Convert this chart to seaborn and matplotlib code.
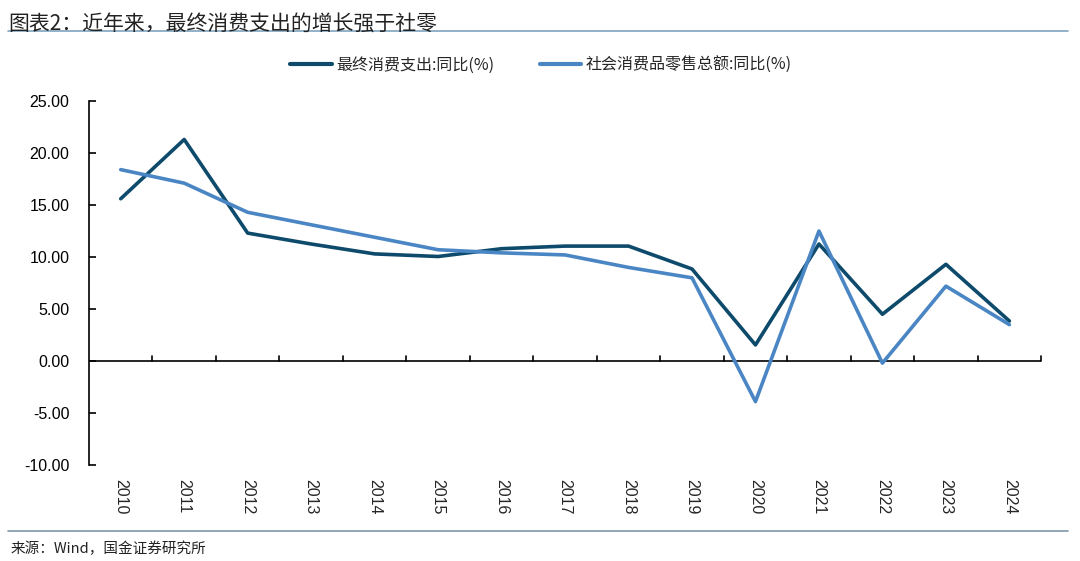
import pandas as pd
import matplotlib.pyplot as plt
import seaborn as sns

years = ['2010', '2011', '2012', '2013', '2014', '2015', '2016', '2017',
         '2018', '2019', '2020', '2021', '2022', '2023', '2024']
final_consumption = [15.6, 21.3, 12.3, 11.25, 10.3, 10.05, 10.8, 11.05,
                     11.05, 8.85, 1.55, 11.25, 4.5, 9.3, 3.85]
retail_sales = [18.4, 17.1, 14.3, 13.1, 11.9, 10.7, 10.4, 10.2,
                9.0, 8.0, -3.9, 12.5, -0.2, 7.2, 3.5]
series_names = ['最终消费支出:同比(%)', '社会消费品零售总额:同比(%)']

df = pd.DataFrame({
    'year': years * 2,
    'value': final_consumption + retail_sales,
    'series': [series_names[0]] * len(years) + [series_names[1]] * len(years),
})
df['x'] = df['year'].map({y: i for i, y in enumerate(years)})

sns.set_style('white')
plt.rcParams['font.family'] = ['Noto Sans CJK SC', 'DejaVu Sans']
plt.rcParams['axes.unicode_minus'] = False

fig = plt.figure(figsize=(10.8, 5.61), dpi=100)
ax = fig.add_axes([0.0824, 0.171, 0.8816, 0.649])

palette = {series_names[0]: '#0d4a6b', series_names[1]: '#4a86c4'}
sns.lineplot(data=df, x='x', y='value', hue='series', palette=palette,
             linewidth=2.6, ax=ax, legend=True)

ax.set_xlim(-0.5, 14.5)
ax.set_ylim(-10, 25)
ax.set_yticks(range(-10, 26, 5))
ax.set_yticklabels([f'{v:.2f}' for v in range(-10, 26, 5)],
                   fontfamily='Liberation Sans', fontsize=11.5)
ax.set_xticks([])
ax.set_xlabel('')
ax.set_ylabel('')

for s in ['top', 'right', 'bottom']:
    ax.spines[s].set_visible(False)
ax.spines['left'].set_color('black')
ax.spines['left'].set_linewidth(1.2)
ax.tick_params(axis='y', direction='in', length=5, width=1.2, pad=14,
               left=True, colors='black')

# zero line with inward category ticks
ax.axhline(0, color='black', linewidth=1.2, zorder=1)
for b in range(1, 16):
    ax.plot([b - 0.5, b - 0.5], [0, 0.5], color='black', linewidth=1.2,
            zorder=1, clip_on=False)

# year labels under the axes
for i, y in enumerate(years):
    ax.text(i, -11.3, y, rotation=-90, ha='center', va='top',
            fontfamily='Liberation Sans', fontsize=11.5, clip_on=False)

leg = ax.legend(loc='center', bbox_to_anchor=(0.475, 1.099), ncol=2,
                frameon=False, fontsize=11.5, handlelength=2.6,
                columnspacing=2.8, handletextpad=0.3)
for line in leg.get_lines():
    line.set_linewidth(3)
for t in leg.get_texts():
    t.set_fontweight('light')

fig.text(0.008, 0.977, '图表2：近年来，最终消费支出的增长强于社零',
         fontsize=15, fontweight='medium', style='italic', ha='left', va='top',
         color='#222222')
fig.add_artist(plt.Line2D([0.007, 0.989], [0.945, 0.945],
                          color='#7fa3bd', linewidth=1.2))
fig.add_artist(plt.Line2D([0.007, 0.989], [0.053, 0.053],
                          color='#7f9aa8', linewidth=1.2))
fig.text(0.01, 0.022, '来源：Wind，国金证券研究所', fontsize=10.5,
         ha='left', va='center', color='#222222')

fig.savefig('out.png', dpi=100)
